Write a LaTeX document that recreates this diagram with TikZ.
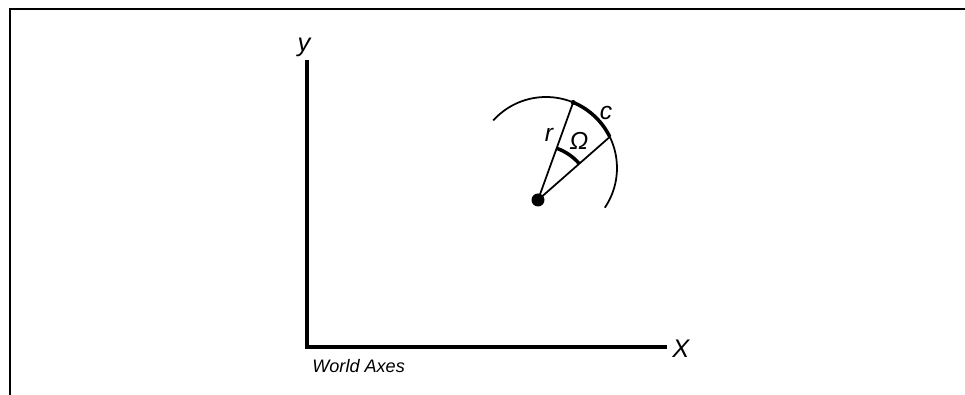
\documentclass[tikz,border=0pt]{standalone}
\usepackage{fontspec}
\setmainfont{Liberation Sans}
\usetikzlibrary{arrows.meta, positioning, calc}
\tikzset{
  frameline/.style = {line width=1.1pt},
  axisline/.style  = {line width=2.2pt, line cap=rect},
  thinline/.style  = {line width=1pt},
  thickarc/.style  = {line width=2pt},
  axlbl/.style     = {font=\fontsize{14.5}{15}\selectfont\itshape, inner sep=0pt},
  symlbl/.style    = {font=\fontsize{14}{14}\selectfont\itshape, inner sep=0pt},
  caplbl/.style    = {font=\fontsize{10.3}{12}\selectfont\itshape, inner sep=0pt},
}

\begin{document}
\begin{tikzpicture}[x=0.02cm, y=0.02cm]
  \useasboundingbox (0,0) rectangle (965,395);
  % page frame
  \coordinate (frameBL) at (10,0);
  \coordinate (frameTL) at (10,386);
  \coordinate (frameTR) at (965,386);
  \draw[frameline] (frameBL) -- (frameTL) -- (frameTR);
  % world axes
  \coordinate (orig) at (307,48);
  \coordinate (ytop) at (307,333);
  \coordinate (xend) at (665,48);
  \draw[axisline] (ytop) -- (orig) -- (xend);
  \node[axlbl] (ylbl) at (304,348) {y};
  \node[axlbl, right=4pt of xend, yshift=-1pt] (xlbl) {X};
  \node[caplbl, anchor=base west] (wlbl) at (312,22) {World Axes};
  % object, arc and angle
  \node[circle, fill, inner sep=0pt, minimum size=0.26cm] (ctr) at (538,195) {};
  \coordinate (arcC) at (546,227);
  \coordinate (arcA) at ($(arcC)+(138:71)$);
  \coordinate (rEnd) at ($(arcC)+(67.5:71)$);
  \coordinate (wEnd) at ($(arcC)+(26:71)$);
  \draw[thinline] (arcA) arc[start angle=138, end angle=-34, radius=1.42cm];
  \draw[thickarc] (rEnd) arc[start angle=67.5, end angle=26, radius=1.42cm];
  \draw[thinline] (rEnd) -- (ctr.center) -- (wEnd);
  \fill (rEnd) circle[radius=1.4pt];
  \draw[thickarc] ($(ctr.center)+(70.2:55)$) arc[start angle=70.2, end angle=41.3, radius=1.1cm];
  \node[symlbl] (rlbl) at (549,260) {r};
  \node[symlbl] (wlbl2) at (579,254) {Ω};
  \node[symlbl] (clbl) at (606,282) {c};
\end{tikzpicture}
\end{document}
